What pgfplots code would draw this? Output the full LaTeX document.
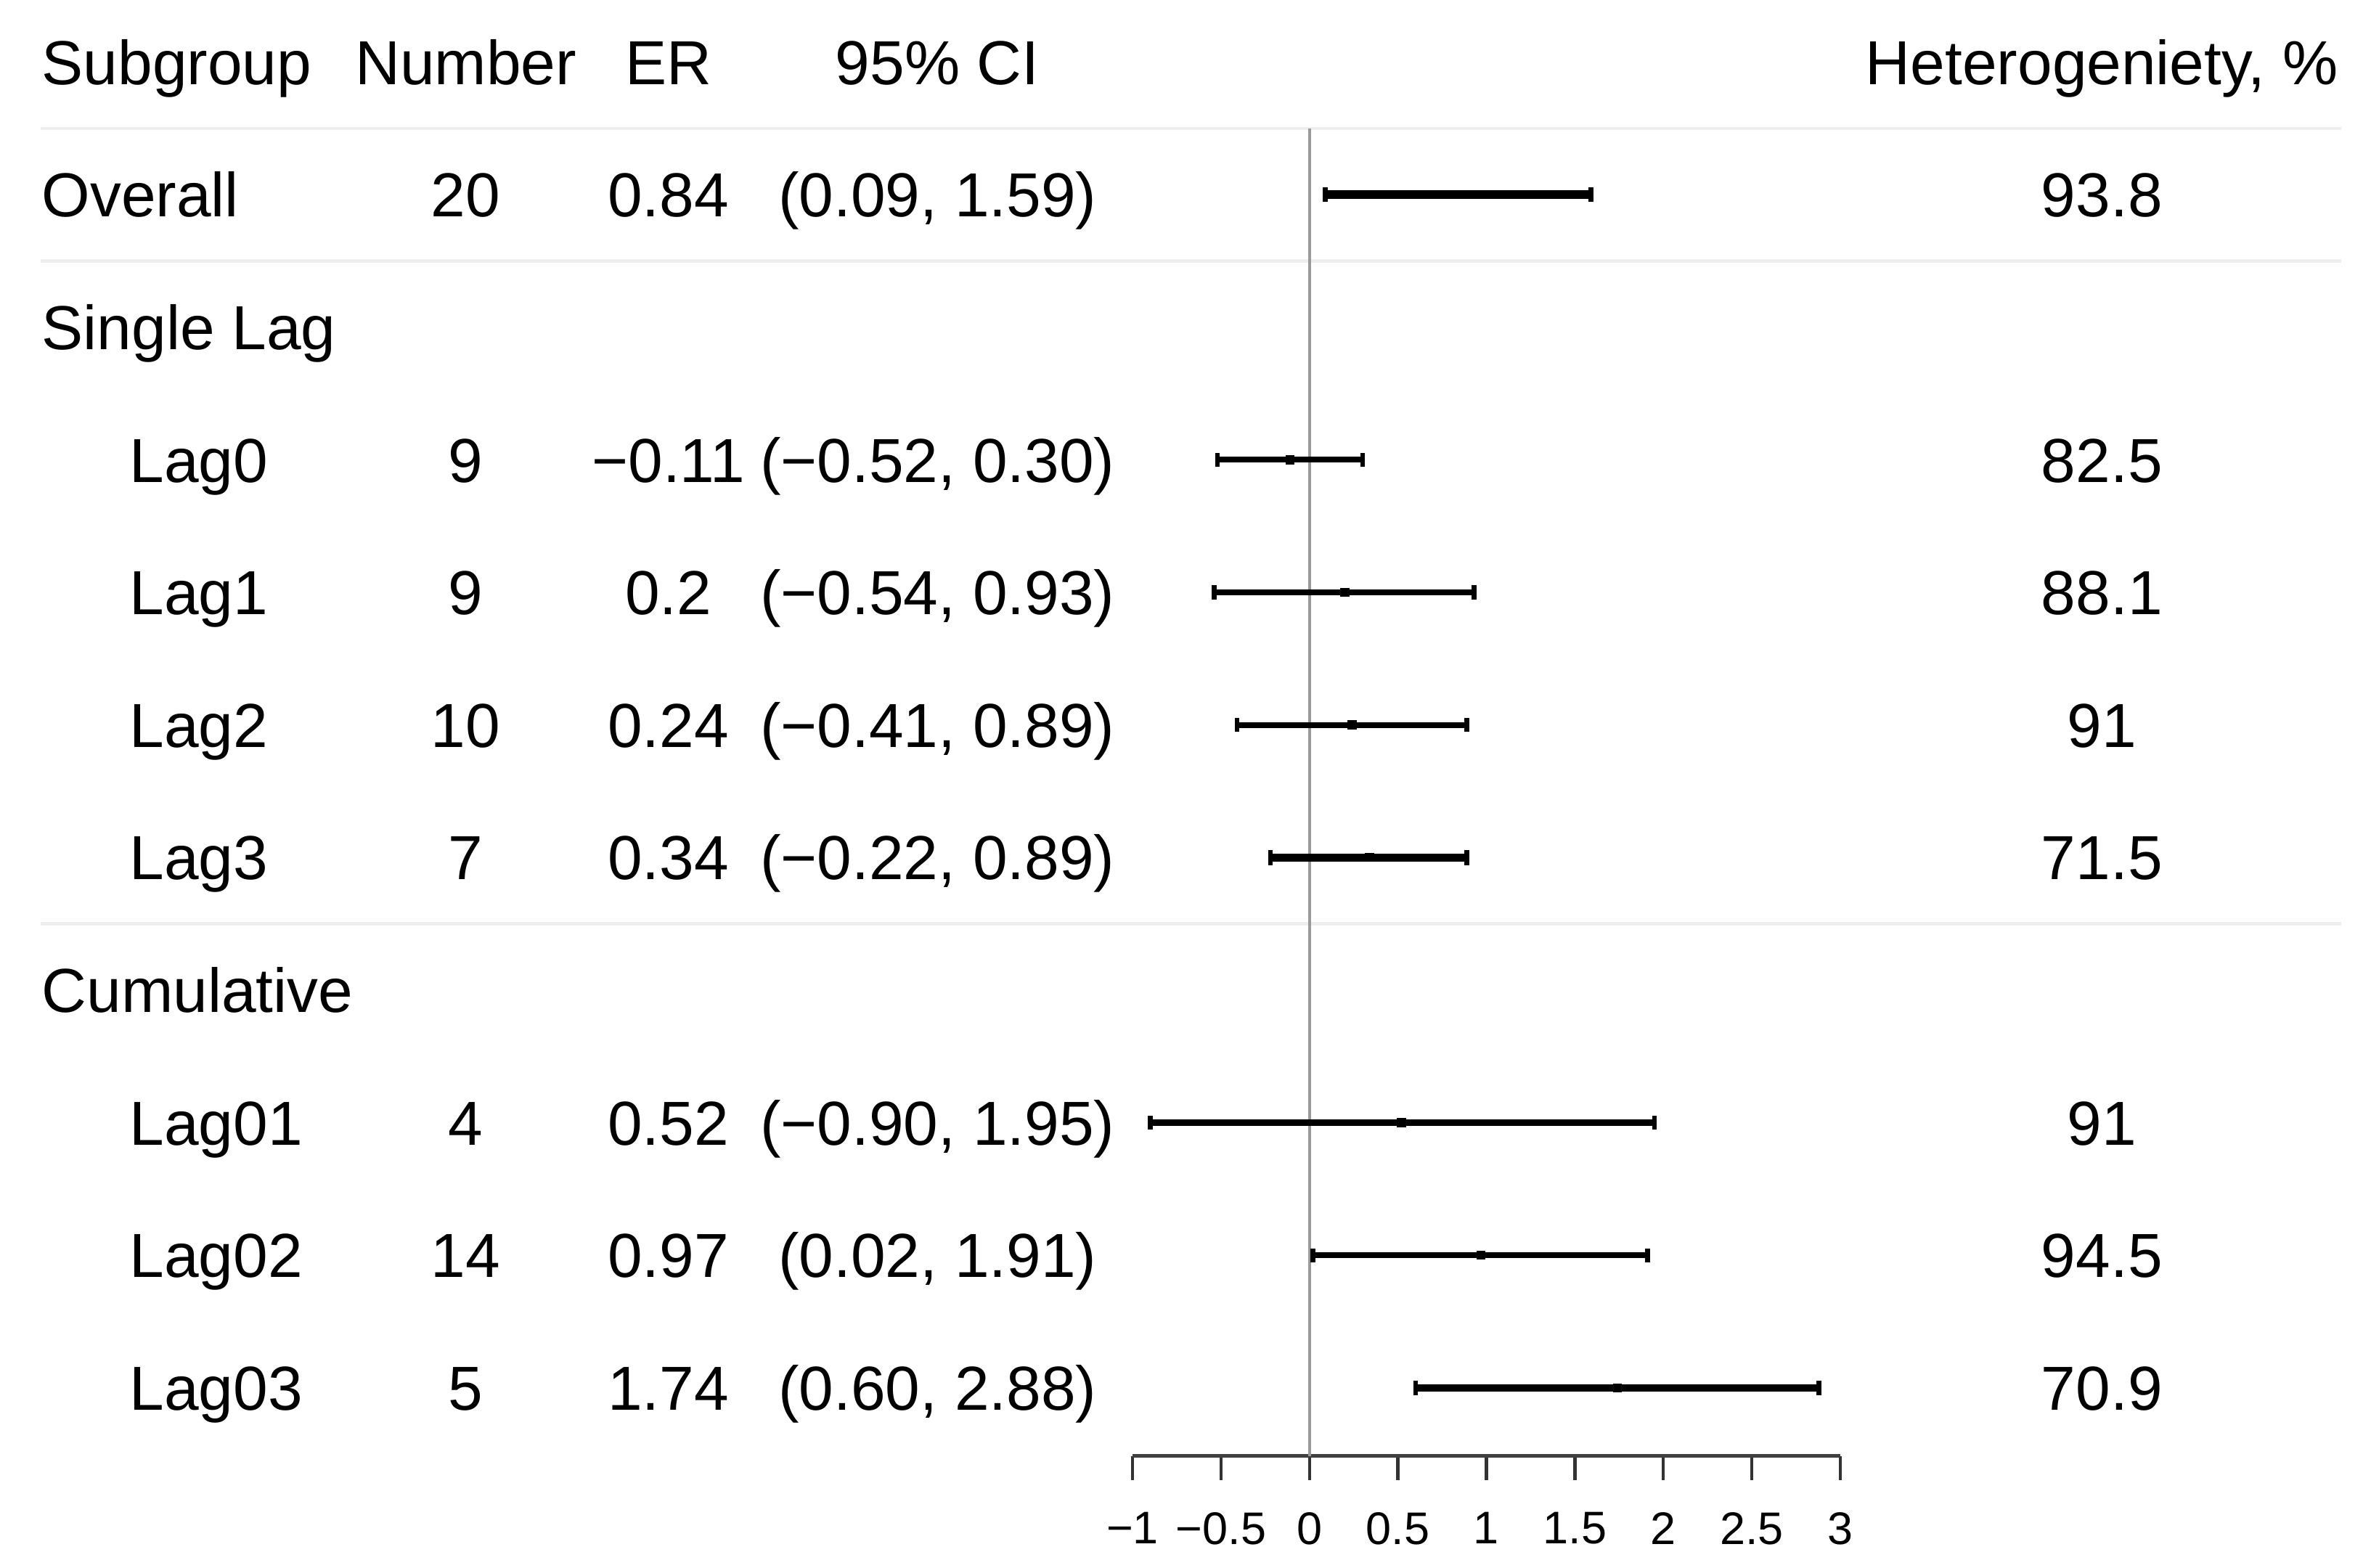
\documentclass[border=0pt]{standalone}
\usepackage{fontspec}
\setmainfont{Liberation Sans}
\usepackage{pgfplots}
\pgfplotsset{compat=1.18}
\definecolor{sepgray}{HTML}{EEEEEE}
\definecolor{zerogray}{HTML}{9A9A9A}
\begin{document}
\begin{tikzpicture}[
  txt/.style={font=\fontsize{11.7}{14}\selectfont, inner sep=0pt, yshift=-4.19pt},
  L/.style={txt, anchor=base west},
  C/.style={txt, anchor=base},
]
\begin{axis}[
  scale only axis, width=4.68cm, height=8.78cm,
  xmin=-1, xmax=3, ymin=0.5, ymax=10.513, y dir=reverse,
  axis x line*=bottom, axis y line=none, ytick=\empty,
  axis line style={-, line width=0.8pt, draw=black!75},
  xtick={-1,-0.5,0,0.5,1,1.5,2,2.5,3},
  xticklabels={−1,−0.5,0,0.5,1,1.5,2,2.5,3},
  tick align=outside, major tick length=0.16cm,
  xtick style={line width=0.6pt, black!80},
  xticklabel style={font=\fontsize{8.6}{10}\selectfont, yshift=-2.5pt},
  clip=false,
]
% bounding box of whole picture
\path (axis cs:-7.402,-0.4675) rectangle (axis cs:6.0,11.357);
% separators
\draw[sepgray, line width=0.6pt] (axis cs:-7.171,0.5) -- (axis cs:5.83,0.5);
\draw[sepgray, line width=0.6pt] (axis cs:-7.171,1.5) -- (axis cs:5.83,1.5);
\draw[sepgray, line width=0.6pt] (axis cs:-7.171,6.5) -- (axis cs:5.83,6.5);
% zero line
\draw[zerogray, line width=0.5pt] (axis cs:0,0.5) -- (axis cs:0,10.513);

% confidence intervals
\addplot[black, line width=1.6pt, mark=|, mark size=1.4pt, mark options={line width=0.9pt}] coordinates {(0.09,1) (1.59,1)};
\addplot[black, line width=1.1pt, mark=|, mark size=1.3pt, mark options={line width=0.9pt}] coordinates {(-0.52,3) (0.30,3)};
\addplot[black, line width=1.0pt, mark=|, mark size=1.3pt, mark options={line width=0.9pt}] coordinates {(-0.54,4) (0.93,4)};
\addplot[black, line width=1.1pt, mark=|, mark size=1.3pt, mark options={line width=0.9pt}] coordinates {(-0.41,5) (0.89,5)};
\addplot[black, line width=1.5pt, mark=|, mark size=1.4pt, mark options={line width=0.9pt}] coordinates {(-0.22,6) (0.89,6)};
\addplot[black, line width=1.2pt, mark=|, mark size=1.3pt, mark options={line width=0.9pt}] coordinates {(-0.90,8) (1.95,8)};
\addplot[black, line width=1.1pt, mark=|, mark size=1.3pt, mark options={line width=0.9pt}] coordinates {(0.02,9) (1.91,9)};
\addplot[black, line width=1.3pt, mark=|, mark size=1.4pt, mark options={line width=0.9pt}] coordinates {(0.60,10) (2.88,10)};
% point estimates
\addplot[only marks, black, mark=square*, mark size=0.65pt] coordinates {
(0.84,1) (-0.11,3) (0.20,4) (0.24,5) (0.34,6) (0.52,8) (0.97,9) (1.74,10)};

% header
\node[L] at (axis cs:-7.171,0) {Subgroup};
\node[C] at (axis cs:-4.769,0) {Number};
\node[C] at (axis cs:-3.624,0) {ER};
\node[C] at (axis cs:-2.103,0) {95\% CI};
\node[C] at (axis cs:4.479,0) {Heterogeniety, \%};
% rows
\node[L] at (axis cs:-7.171,1) {Overall};
\node[C] at (axis cs:-4.769,1) {20};
\node[C] at (axis cs:-3.624,1) {0.84};
\node[C] at (axis cs:-2.103,1) {(0.09, 1.59)};
\node[C] at (axis cs:4.479,1) {93.8};

\node[L] at (axis cs:-7.171,2) {Single Lag};

\node[L] at (axis cs:-6.675,3) {Lag0};
\node[C] at (axis cs:-4.769,3) {9};
\node[C] at (axis cs:-3.624,3) {−0.11};
\node[C] at (axis cs:-2.103,3) {(−0.52, 0.30)};
\node[C] at (axis cs:4.479,3) {82.5};

\node[L] at (axis cs:-6.675,4) {Lag1};
\node[C] at (axis cs:-4.769,4) {9};
\node[C] at (axis cs:-3.624,4) {0.2};
\node[C] at (axis cs:-2.103,4) {(−0.54, 0.93)};
\node[C] at (axis cs:4.479,4) {88.1};

\node[L] at (axis cs:-6.675,5) {Lag2};
\node[C] at (axis cs:-4.769,5) {10};
\node[C] at (axis cs:-3.624,5) {0.24};
\node[C] at (axis cs:-2.103,5) {(−0.41, 0.89)};
\node[C] at (axis cs:4.479,5) {91};

\node[L] at (axis cs:-6.675,6) {Lag3};
\node[C] at (axis cs:-4.769,6) {7};
\node[C] at (axis cs:-3.624,6) {0.34};
\node[C] at (axis cs:-2.103,6) {(−0.22, 0.89)};
\node[C] at (axis cs:4.479,6) {71.5};

\node[L] at (axis cs:-7.171,7) {Cumulative};

\node[L] at (axis cs:-6.675,8) {Lag01};
\node[C] at (axis cs:-4.769,8) {4};
\node[C] at (axis cs:-3.624,8) {0.52};
\node[C] at (axis cs:-2.103,8) {(−0.90, 1.95)};
\node[C] at (axis cs:4.479,8) {91};

\node[L] at (axis cs:-6.675,9) {Lag02};
\node[C] at (axis cs:-4.769,9) {14};
\node[C] at (axis cs:-3.624,9) {0.97};
\node[C] at (axis cs:-2.103,9) {(0.02, 1.91)};
\node[C] at (axis cs:4.479,9) {94.5};

\node[L] at (axis cs:-6.675,10) {Lag03};
\node[C] at (axis cs:-4.769,10) {5};
\node[C] at (axis cs:-3.624,10) {1.74};
\node[C] at (axis cs:-2.103,10) {(0.60, 2.88)};
\node[C] at (axis cs:4.479,10) {70.9};
\end{axis}
\end{tikzpicture}
\end{document}
